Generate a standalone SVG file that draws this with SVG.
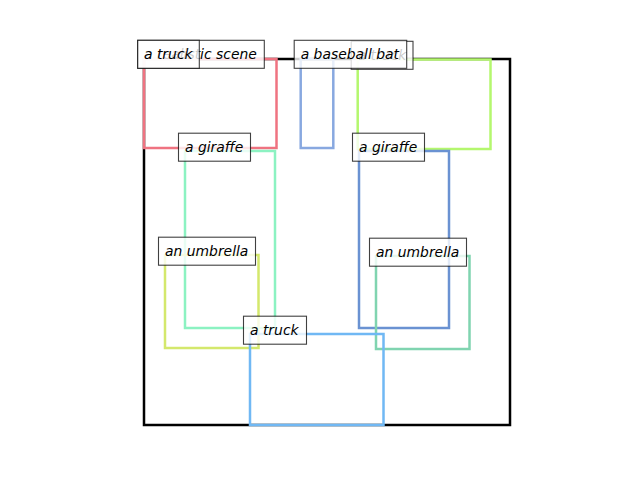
<svg xmlns="http://www.w3.org/2000/svg" width="640" height="480" viewBox="0 0 640 480">
<style>
.box{fill:none;stroke-width:2.5}
.lbl rect{fill:#ffffff;fill-opacity:0.8;stroke:#000000;stroke-opacity:0.75;stroke-width:1.1}
.lbl text{font-family:"DejaVu Sans",sans-serif;font-style:italic;font-size:13.9px;fill:#000000}
</style>
<rect width="640" height="480" fill="#ffffff"/>
<g id="boxes">
<rect id="scene" x="144" y="59" width="366" height="366" fill="none" stroke="#000000" stroke-width="2.5"/>
<rect id="truck1-box" class="box" x="144" y="59" width="132.5" height="89" stroke="#ef7381"/>
<rect id="bat-box" class="box" x="300.7" y="59" width="32.6" height="89" stroke="#88a8e0"/>
<rect id="truck2-box" class="box" x="357.7" y="59.5" width="132.8" height="89.5" stroke="#b4f76e"/>
<rect id="giraffe1-box" class="box" x="185" y="151" width="90" height="177" stroke="#8cf2c2"/>
<rect id="giraffe2-box" class="box" x="359" y="151" width="90" height="177" stroke="#6a92d2"/>
<rect id="umbrella1-box" class="box" x="165" y="255" width="93.5" height="93" stroke="#d4e86c"/>
<rect id="umbrella2-box" class="box" x="376" y="256" width="93.5" height="93" stroke="#80d4b0"/>
<rect id="truck3-box" class="box" x="250" y="334" width="133.5" height="91" stroke="#70b8f4"/>
</g>
<g id="label-scene" class="lbl"><rect x="137.7" y="40.3" width="126.6" height="28"/><text x="144" y="59">a realistic scene</text></g>
<g id="label-truck1" class="lbl"><rect x="137.7" y="40.3" width="61.6" height="28"/><text x="144" y="59">a truck</text></g>
<g id="label-truck2" class="lbl"><rect x="351.2" y="41.3" width="61.8" height="28"/><text x="357.7" y="59.7">a truck</text></g>
<g id="label-bat" class="lbl"><rect x="294.2" y="40.3" width="112.5" height="28"/><text x="300.7" y="59">a baseball bat</text></g>
<g id="label-giraffe1" class="lbl"><rect x="178.5" y="133.2" width="72" height="28"/><text x="185" y="151.5">a giraffe</text></g>
<g id="label-giraffe2" class="lbl"><rect x="352.5" y="133.2" width="72" height="28"/><text x="359" y="151.5">a giraffe</text></g>
<g id="label-umbrella1" class="lbl"><rect x="158.5" y="237.2" width="97" height="28"/><text x="165" y="255.5">an umbrella</text></g>
<g id="label-umbrella2" class="lbl"><rect x="369.5" y="238.2" width="97" height="28"/><text x="376" y="256.5">an umbrella</text></g>
<g id="label-truck3" class="lbl"><rect x="243.5" y="316.2" width="63" height="28"/><text x="250" y="334.5">a truck</text></g>
<g id="connectors"></g>
</svg>
